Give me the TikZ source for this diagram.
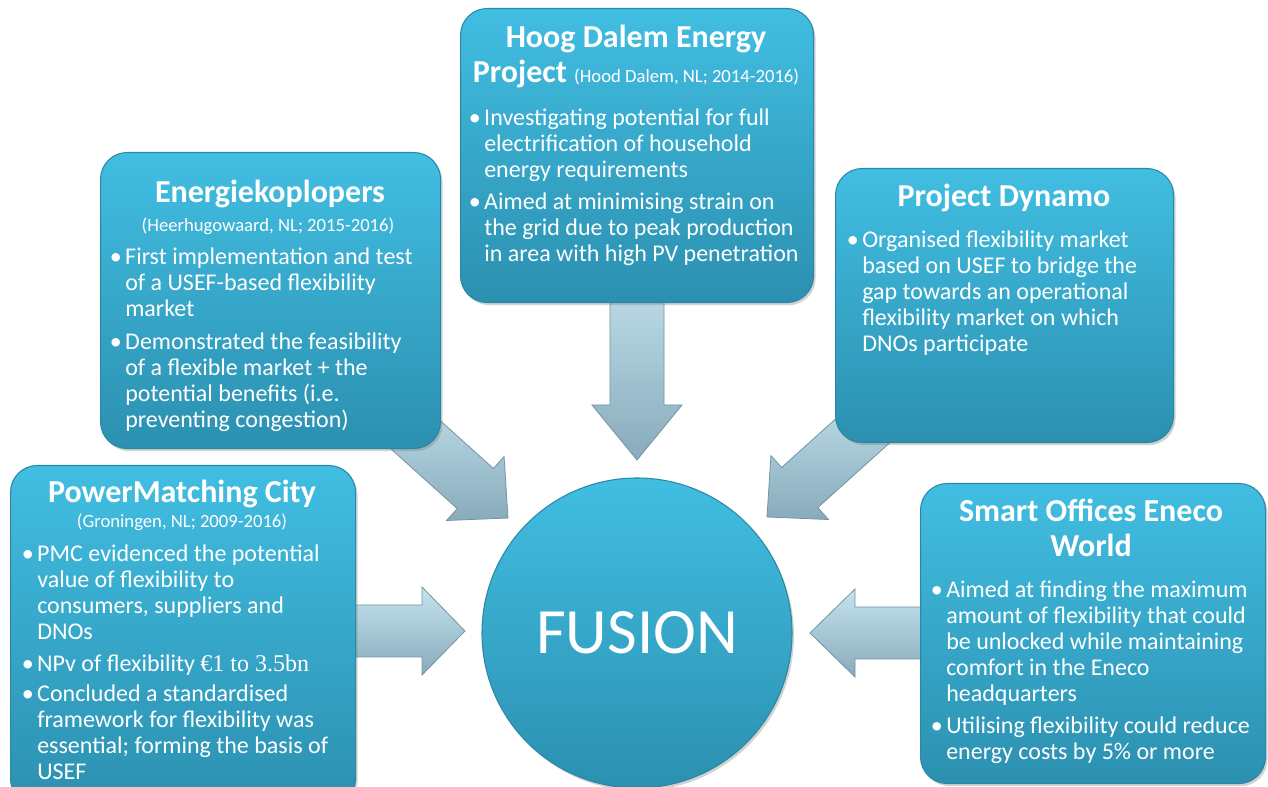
\documentclass[tikz,border=0pt]{standalone}
\usepackage{fontspec}
\setmainfont{Carlito}
\newfontfamily\serifnum{Liberation Serif}
\usetikzlibrary{shadows,calc}
\frenchspacing

\definecolor{boxtop}{HTML}{41BEE2}
\definecolor{boxbot}{HTML}{2C90B0}
\definecolor{boxedge}{HTML}{2A88A6}
\definecolor{arrtop}{HTML}{C4E3EE}
\definecolor{arrbot}{HTML}{88ABBB}
\definecolor{arredge}{HTML}{7494A3}

\newcommand\bulletmark{\leavevmode\llap{•\hspace{2.5pt}}}
\newcommand\blockarrow[6]{%
  \begin{scope}[shift={(#1)}, rotate=#2]
    \draw[arrowshape] (0,0) -- (-#4,#5) -- (-#4,#6) -- (-#3,#6) -- (-#3,-#6)
      -- (-#4,-#6) -- (-#4,-#5) -- cycle;
  \end{scope}}

\tikzset{
  box/.style={rounded corners=20pt, top color=boxtop, bottom color=boxbot,
    draw=boxedge, line width=0.8pt, inner sep=0pt, anchor=north west,
    drop shadow={opacity=0.35, shadow xshift=1.5pt, shadow yshift=-2pt}},
  circ/.style={circle, top color=boxtop, bottom color=boxbot, draw=boxedge,
    line width=0.8pt, inner sep=0pt, minimum size=232.5pt, text=white,
    font=\fontsize{48.5}{48.5}\selectfont,
    drop shadow={opacity=0.35, shadow xshift=1.5pt, shadow yshift=-2pt}},
  arrowshape/.style={top color=arrtop, bottom color=arrbot, draw=arredge,
    line width=0.6pt, line join=miter},
  titletxt/.style={text=white, inner sep=0pt, anchor=base, align=flush center,
    text width=320pt, font=\frenchspacing\bfseries\fontsize{24}{26.25}\selectfont},
  subtxt/.style={text=white, inner sep=0pt, anchor=base, align=flush center,
    text width=300pt, font=\frenchspacing\fontsize{14}{15}\selectfont},
  bodytxt/.style={text=white, inner sep=0pt, anchor=base west, align=flush left,
    text width=320pt, font=\frenchspacing\fontsize{18}{19.5}\selectfont},
}

\begin{document}
\begin{tikzpicture}[x=0.75pt, y=-0.75pt]
\useasboundingbox (0,0) rectangle (1268,787);
\fill[white] (0,0) rectangle (1268,787);

% arrow tips
\coordinate (tipT) at (637,460);
\coordinate (tipL) at (465,631);
\coordinate (tipR) at (810,633);
\coordinate (tipUL) at (508,518);
\coordinate (tipUR) at (767,517);

% block arrows (drawn under the boxes)
\blockarrow{tipT}{-90}{200}{55}{45}{27}
\blockarrow{tipL}{0}{130}{43}{44}{26}
\blockarrow{tipR}{180}{130}{45}{44}{26}
\blockarrow{tipUL}{-42}{170}{44}{43}{27}
\blockarrow{tipUR}{-138}{170}{44}{43}{27}

% boxes
\node[box, minimum width=264.75pt, minimum height=220.5pt] (hd) at (460,8) {};
\node[box, minimum width=255pt, minimum height=222pt] (ek) at (100,152) {};
\node[box, minimum width=253.5pt, minimum height=205.5pt] (pd) at (835,168) {};
\node[box, minimum width=258.75pt, minimum height=255pt] (pmc) at (10,465) {};
\node[box, minimum width=258.75pt, minimum height=225pt] (so) at (920,483) {};

% centre
\node[circ] (fusion) at (637,633) {FUSION};

% Hoog Dalem
\node[titletxt] (hdt) at (636,48) {Hoog Dalem Energy\\Project {\mdseries\fontsize{14}{15}\selectfont (Hood Dalem, NL; 2014-2016)}};
\node[bodytxt] (hdb) at (484,126) {\bulletmark Investigating potential for full\\electrification of household\\energy requirements\\[4.5pt]\bulletmark Aimed at minimising strain on\\the grid due to peak production\\in area with high PV penetration};

% Energiekoplopers
\node[titletxt] (ekt) at (270,203) {Energiekoplopers};
\node[subtxt] (eks) at (268,232) {(Heerhugowaard, NL; 2015-2016)};
\node[bodytxt] (ekb) at (125,265) {\bulletmark First implementation and test\\of a USEF-based flexibility\\market\\[5pt]\bulletmark Demonstrated the feasibility\\of a flexible market + the\\potential benefits (i.e.\\preventing congestion)};

% Project Dynamo
\node[titletxt] (pdt) at (1004,207) {Project Dynamo};
\node[bodytxt] (pdb) at (862,248) {\bulletmark Organised flexibility market\\based on USEF to bridge the\\gap towards an operational\\flexibility market on which\\DNOs participate};

% PowerMatching City
\node[titletxt] (pmct) at (182,503) {PowerMatching City};
\node[subtxt] (pmcs) at (182,528) {(Groningen, NL; 2009-2016)};
\node[bodytxt] (pmcb) at (37,562) {\bulletmark PMC evidenced the potential\\value of flexibility to\\consumers, suppliers and\\DNOs\\[4.5pt]\bulletmark NPv of flexibility {\serifnum €1 to 3.5bn}\\[3pt]\bulletmark Concluded a standardised\\framework for flexibility was\\essential; forming the basis of\\USEF};

% Smart Offices
\node[titletxt] (sot) at (1091,522) {Smart Offices Eneco\\World};
\node[bodytxt] (sob) at (946,598) {\bulletmark Aimed at finding the maximum\\amount of flexibility that could\\be unlocked while maintaining\\comfort in the Eneco\\headquarters\\[4.5pt]\bulletmark Utilising flexibility could reduce\\energy costs by 5\% or more};
\end{tikzpicture}
\end{document}
